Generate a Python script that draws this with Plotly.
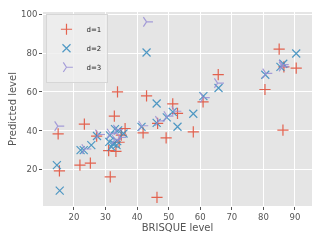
import plotly.graph_objects as go

# d=1 series
d1_x = [15.0, 15.4, 21.9, 25.2, 23.3, 31.5, 33.8, 32.8, 43.0, 41.9, 46.3, 49.2, 57.8, 86.2,
        51.3, 52.8, 60.9, 65.7, 80.5, 85.0, 90.4, 86.5, 46.5, 31.0, 33.3, 35.0, 36.2, 34.3, 27.2]
d1_y = [38.3, 19.2, 22.2, 23.2, 43.3, 16.1, 60.0, 47.5, 57.9, 38.8, 5.6, 36.2, 39.3, 40.3,
        53.8, 48.9, 54.8, 68.9, 61.2, 82.0, 72.2, 72.9, 43.7, 29.7, 29.3, 37.7, 41.1, 34.0, 37.2]

# d=2 series
d2_x = [15.5, 14.6, 22.1, 23.1, 25.5, 27.3, 31.4, 33.0, 34.0, 35.7, 32.5, 33.5, 31.2, 33.7,
        31.9, 41.4, 43.0, 46.2, 51.3, 49.4, 46.2, 57.8, 52.8, 61.0, 65.8, 80.6, 85.4, 86.3, 90.4]
d2_y = [9.0, 22.2, 29.9, 29.9, 32.5, 37.2, 37.5, 40.8, 40.1, 38.5, 33.2, 32.5, 34.2, 34.6,
        31.6, 41.9, 80.3, 54.0, 49.7, 46.8, 44.0, 48.7, 42.0, 57.8, 62.0, 68.8, 72.9, 74.5, 79.8]

# d=3 series
d3_x = [14.9, 43.0, 27.8, 33.0, 34.5, 46.8, 49.5, 52.0, 61.0, 65.5, 80.8, 86.0, 31.5, 41.5,
        33.5, 23.5, 86.0]
d3_y = [42.3, 96.1, 38.0, 35.5, 36.5, 45.0, 47.5, 50.0, 57.0, 64.5, 69.5, 74.0, 38.5, 42.5,
        40.5, 30.5, 73.0]

series_names = ["d=1", "d=2", "d=3"]
colors = ["#E24A33", "#348ABD", "#988ED5"]
symbols = ["cross-thin", "x-thin", "y-right"]

x_ticks = [20, 30, 40, 50, 60, 70, 80, 90]
y_ticks = [20, 40, 60, 80, 100]

fig = go.Figure()
for xs, ys, name, c, s in zip([d1_x, d2_x, d3_x], [d1_y, d2_y, d3_y], series_names, colors, symbols):
    fig.add_trace(go.Scatter(
        x=xs, y=ys, mode="markers", name=name,
        marker=dict(symbol=s, size=8, color=c, line=dict(color=c, width=1.2)),
        opacity=0.85,
    ))

font_family = "DejaVu Sans"
fig.update_layout(
    width=323, height=242,
    margin=dict(l=43, r=11, t=12, b=36),
    paper_bgcolor="white",
    plot_bgcolor="#E5E5E5",
    font=dict(family=font_family, color="#555555", size=8.5),
    showlegend=True,
    legend=dict(
        x=0.01, y=0.99, xanchor="left", yanchor="top",
        bgcolor="rgba(238,238,238,0.85)", bordercolor="#D0D0D0", borderwidth=0.8,
        font=dict(size=7, color="#222222", family=font_family),
        itemwidth=30, tracegroupgap=0,
    ),
    xaxis=dict(
        range=[10.2, 95.4], tickvals=x_ticks, ticktext=[str(v) for v in x_ticks],
        showgrid=True, gridcolor="white", gridwidth=0.8, zeroline=False,
        ticks="outside", ticklen=3, tickcolor="#555555", automargin=False,
        title=dict(text="BRISQUE level", font=dict(size=10, color="#555555"), standoff=2),
        showline=False,
    ),
    yaxis=dict(
        range=[1.1, 101.2], tickvals=y_ticks, ticktext=[str(v) for v in y_ticks],
        showgrid=True, gridcolor="white", gridwidth=0.8, zeroline=False,
        ticks="outside", ticklen=3, tickcolor="#555555", automargin=False,
        title=dict(text="Predicted level", font=dict(size=10, color="#555555"), standoff=2),
        showline=False,
    ),
)

fig.write_html("out.html", config={"displayModeBar": False},
               post_script="document.body.style.margin='0';document.body.style.padding='0';")
